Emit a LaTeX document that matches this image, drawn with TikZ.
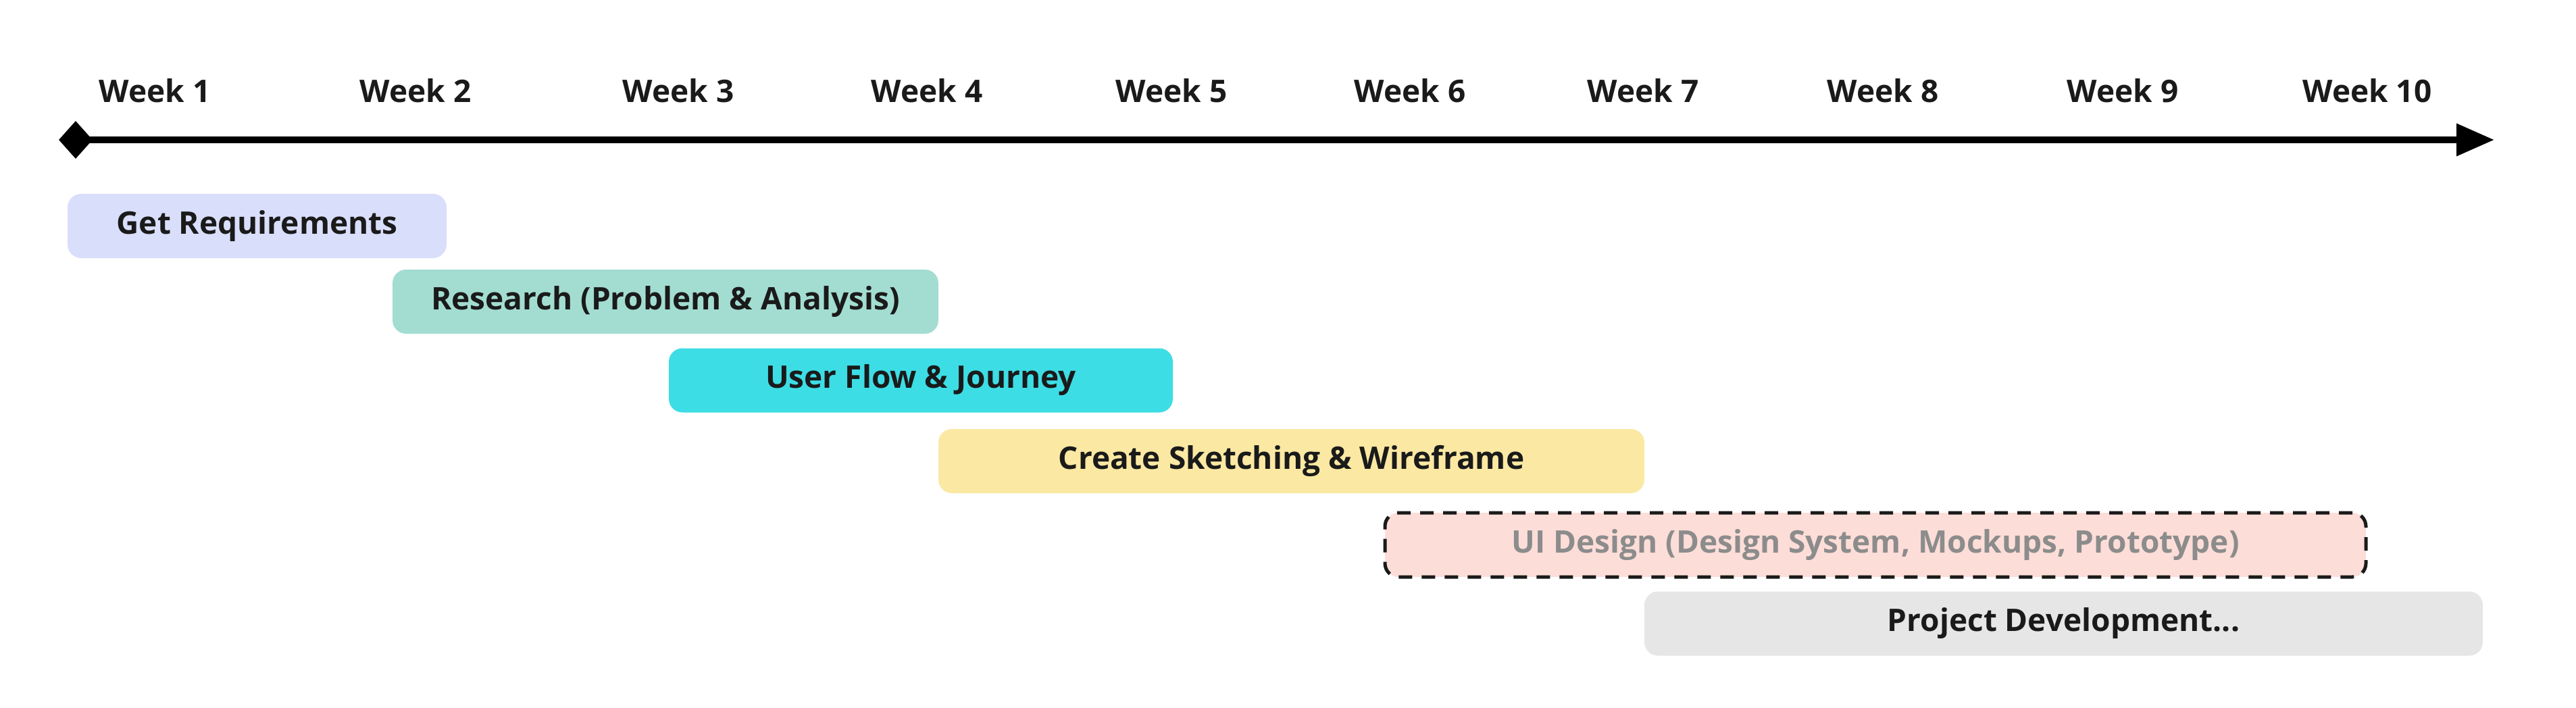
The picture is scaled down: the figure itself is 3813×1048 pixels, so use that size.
\documentclass[tikz,border=0pt]{standalone}
\usepackage{fontspec}
\setmainfont{Open Sans}
\usetikzlibrary{arrows.meta,shapes.geometric}
\definecolor{cA}{HTML}{D9DEFB}
\definecolor{cB}{HTML}{A3DDD1}
\definecolor{cC}{HTML}{3DDDE5}
\definecolor{cD}{HTML}{FBE8A3}
\definecolor{cE}{HTML}{FDDDD8}
\definecolor{cF}{HTML}{E6E6E6}
\definecolor{txt}{HTML}{1A1A1A}
\definecolor{gtxt}{HTML}{8C8C8C}
\tikzset{
  wk/.style={font=\fontsize{46}{50}\selectfont\bfseries, text=txt, inner sep=0pt},
  bar/.style={rounded corners=20pt, inner sep=0pt, font=\fontsize{46}{50}\selectfont\bfseries, text=txt},
}
\begin{document}
\begin{tikzpicture}[x=1pt,y=-1pt]
\useasboundingbox (0,0) rectangle (3813,1048);
\fill[white] (0,0) rectangle (3813,1048);
\coordinate (st) at (112,207);
\coordinate (en) at (3692,207);
\draw[line width=10pt, -{Triangle[length=56pt,width=46pt]}] (st) -- (en);
\node[diamond, fill=black, minimum width=50pt, minimum height=56pt, inner sep=0pt] (dm) at (st) {};
\foreach \i/\x in {1/229,2/615,3/1004,4/1372,5/1734,6/2087,7/2432,8/2787,9/3142,10/3504}
  \node[wk] (w\i) at (\x,134) {Week \i};
\node[bar, fill=cA, minimum width=561pt, minimum height=95pt] (b1) at (380.5,334.5) {};
\node[bar, text=txt] (t1) at (b1.center) {Get Requirements};
\node[bar, fill=cB, minimum width=808pt, minimum height=95pt] (b2) at (985,446.5) {Research (Problem \& Analysis)};
\node[bar, fill=cC, minimum width=746pt, minimum height=95pt] (b3) at (1363,563) {User Flow \& Journey};
\node[bar, fill=cD, minimum width=1045pt, minimum height=95pt] (b4) at (1911.5,682.5) {Create Sketching \& Wireframe};
\node[bar, fill=cE, draw=txt, line width=5pt, dash pattern=on 20pt off 14pt, minimum width=1452pt, minimum height=95pt, text=gtxt] (b5) at (2776,806.5) {UI Design (Design System, Mockups, Prototype)};
\node[bar, fill=cF, minimum width=1241pt, minimum height=95pt] (b6) at (3054.5,923) {Project Development...};
\end{tikzpicture}
\end{document}
